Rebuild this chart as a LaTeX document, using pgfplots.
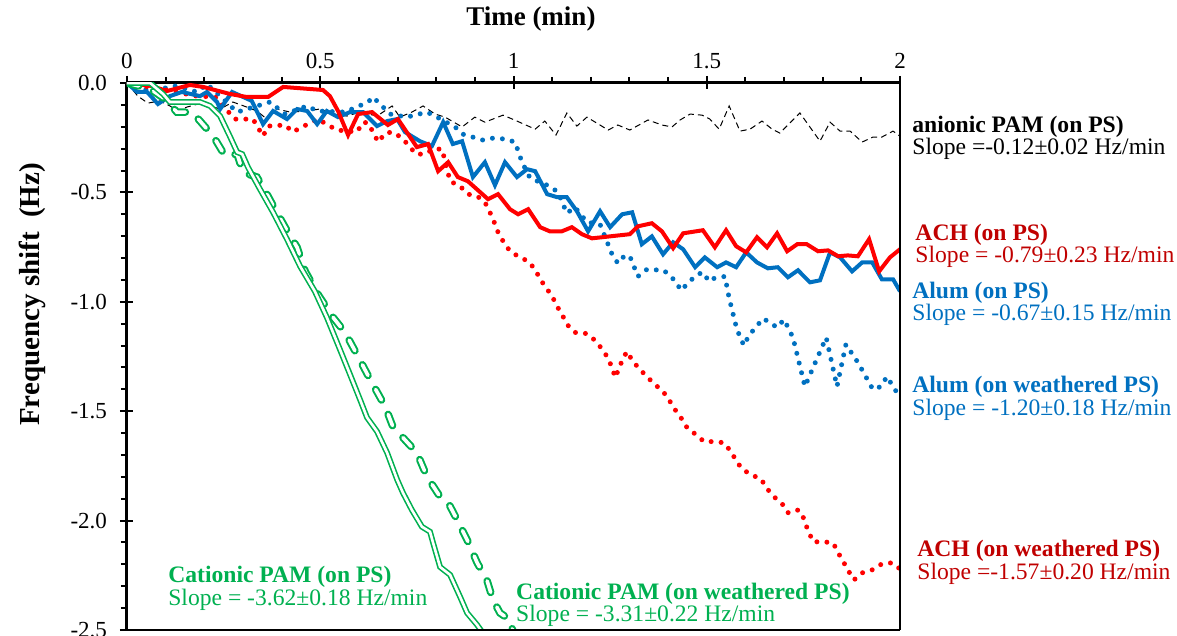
\documentclass[border=0pt]{standalone}
\usepackage{pgfplots}
\pgfplotsset{compat=1.18}
\usepackage{fontspec}
\setmainfont{Liberation Serif}
\definecolor{cred}{HTML}{FF0000}
\definecolor{cblue}{HTML}{0070C0}
\definecolor{cgreen}{HTML}{00B050}
\definecolor{cdred}{HTML}{C00000}
\newcommand{\annfont}{\fontsize{11.8pt}{11.3pt}\selectfont}
\begin{document}
\begin{tikzpicture}
\path[use as bounding box] (-63.5pt,-3pt) rectangle (525pt,315pt);
\begin{axis}[
  at={(0pt,0pt)}, anchor=south west,
  scale only axis, width=386.5pt, height=273.5pt,
  xmin=0, xmax=2, ymin=-2.5, ymax=0,
  axis x line*=top, axis y line*=left,
  axis line style={line width=1.5pt, -},
  xtick={0,0.5,1,1.5,2}, ytick={-2.5,-2,-1.5,-1,-0.5,0},
  minor x tick num=4, minor y tick num=4,
  tick align=outside,
  major tick length=3.5pt, minor tick length=3pt,
  every tick/.style={black, line width=1pt},
  extra x ticks={0.5,1,1.5}, extra x tick labels={},
  extra y ticks={-2,-1.5,-1,-0.5}, extra y tick labels={},
  extra tick style={tick align=inside, major tick length=3pt},
  clip mode=individual,
  ticklabel style={font=\fontsize{11.5pt}{12pt}\selectfont},
  /pgf/number format/assume math mode=true,
  yticklabel style={xshift=-3pt, /pgf/number format/.cd, fixed, fixed zerofill, precision=1},
  xticklabel style={/pgf/number format/.cd, fixed},
]
% anionic PAM (on PS)
\addplot[black, line width=0.5pt, dash pattern=on 3pt off 2pt, mark=none] coordinates {
(0,0)(0.028,-0.060)(0.054,-0.092)(0.085,-0.082)(0.111,-0.105)(0.132,-0.128)(0.155,-0.110)(0.184,-0.096)(0.215,-0.105)(0.241,-0.119)(0.274,-0.087)(0.310,-0.110)(0.336,-0.128)(0.362,-0.165)(0.388,-0.119)(0.422,-0.133)(0.466,-0.128)(0.499,-0.119)(0.533,-0.142)(0.569,-0.151)(0.603,-0.133)(0.647,-0.151)(0.686,-0.105)(0.706,-0.156)(0.737,-0.133)(0.766,-0.105)(0.797,-0.142)(0.823,-0.156)(0.867,-0.201)(0.900,-0.156)(0.926,-0.179)(0.973,-0.147)(1.009,-0.174)(1.056,-0.211)(1.081,-0.174)(1.110,-0.238)(1.138,-0.137)(1.164,-0.197)(1.190,-0.156)(1.245,-0.215)(1.270,-0.192)(1.301,-0.215)(1.348,-0.169)(1.384,-0.192)(1.410,-0.201)(1.431,-0.169)(1.457,-0.142)(1.488,-0.147)(1.508,-0.165)(1.532,-0.211)(1.558,-0.105)(1.586,-0.220)(1.612,-0.211)(1.643,-0.174)(1.669,-0.211)(1.689,-0.229)(1.741,-0.137)(1.793,-0.266)(1.819,-0.179)(1.845,-0.220)(1.871,-0.220)(1.902,-0.270)(1.930,-0.247)(1.953,-0.247)(1.982,-0.220)(2.000,-0.243)};
% Alum (on weathered PS)
\addplot[cblue, line width=2.5pt, line cap=round, dash pattern=on 0pt off 5pt, mark=none] coordinates {
(0,0)(0.060,-0.037)(0.124,-0.014)(0.181,-0.041)(0.207,-0.005)(0.285,-0.133)(0.370,-0.087)(0.409,-0.142)(0.466,-0.105)(0.492,-0.128)(0.564,-0.133)(0.624,-0.087)(0.636,-0.064)(0.655,-0.096)(0.680,-0.142)(0.724,-0.156)(0.776,-0.133)(0.802,-0.156)(0.849,-0.201)(0.869,-0.234)(0.921,-0.261)(0.947,-0.252)(0.978,-0.256)(1.004,-0.270)(1.022,-0.362)(1.043,-0.435)(1.094,-0.472)(1.115,-0.499)(1.138,-0.595)(1.159,-0.568)(1.190,-0.636)(1.224,-0.646)(1.255,-0.783)(1.270,-0.824)(1.288,-0.788)(1.301,-0.792)(1.322,-0.884)(1.345,-0.852)(1.389,-0.856)(1.420,-0.907)(1.433,-0.948)(1.472,-0.879)(1.490,-0.865)(1.506,-0.907)(1.519,-0.893)(1.547,-0.884)(1.558,-0.984)(1.578,-1.126)(1.596,-1.200)(1.609,-1.154)(1.646,-1.076)(1.682,-1.117)(1.700,-1.081)(1.723,-1.163)(1.754,-1.387)(1.809,-1.163)(1.837,-1.387)(1.860,-1.195)(1.891,-1.277)(1.930,-1.401)(1.951,-1.387)(1.966,-1.342)(1.992,-1.415)(2.000,-1.401)};
% ACH (on weathered PS)
\addplot[cred, line width=2.5pt, line cap=round, dash pattern=on 0pt off 5pt, mark=none] coordinates {
(0,0)(0.085,-0.027)(0.181,-0.060)(0.228,-0.064)(0.279,-0.165)(0.326,-0.165)(0.352,-0.243)(0.365,-0.197)(0.409,-0.192)(0.429,-0.224)(0.453,-0.201)(0.494,-0.165)(0.520,-0.192)(0.543,-0.215)(0.595,-0.224)(0.611,-0.179)(0.624,-0.183)(0.650,-0.270)(0.668,-0.229)(0.688,-0.224)(0.712,-0.252)(0.748,-0.325)(0.771,-0.325)(0.792,-0.302)(0.815,-0.302)(0.836,-0.449)(0.862,-0.472)(0.882,-0.508)(0.906,-0.517)(0.926,-0.545)(0.939,-0.591)(0.950,-0.636)(0.960,-0.682)(0.973,-0.723)(0.991,-0.769)(1.012,-0.792)(1.038,-0.815)(1.056,-0.852)(1.069,-0.897)(1.100,-0.975)(1.113,-1.021)(1.128,-1.067)(1.141,-1.108)(1.159,-1.140)(1.188,-1.145)(1.208,-1.172)(1.226,-1.209)(1.242,-1.250)(1.255,-1.300)(1.263,-1.346)(1.273,-1.305)(1.283,-1.259)(1.294,-1.227)(1.307,-1.268)(1.325,-1.305)(1.345,-1.342)(1.366,-1.378)(1.387,-1.410)(1.402,-1.447)(1.418,-1.493)(1.433,-1.529)(1.449,-1.575)(1.472,-1.607)(1.493,-1.639)(1.519,-1.639)(1.544,-1.644)(1.563,-1.685)(1.576,-1.726)(1.591,-1.763)(1.614,-1.790)(1.640,-1.809)(1.656,-1.854)(1.674,-1.891)(1.695,-1.923)(1.710,-1.964)(1.734,-1.951)(1.746,-1.964)(1.754,-2.010)(1.765,-2.056)(1.775,-2.097)(1.803,-2.097)(1.827,-2.102)(1.840,-2.147)(1.855,-2.193)(1.868,-2.234)(1.881,-2.271)(1.902,-2.239)(1.928,-2.225)(1.953,-2.198)(1.979,-2.193)(2.000,-2.221)};
% Alum (on PS)
\addplot[cblue, line width=2pt, mark=none] coordinates {
(0,0)(0.026,-0.041)(0.052,-0.041)(0.080,-0.096)(0.111,-0.060)(0.142,-0.041)(0.189,-0.060)(0.207,-0.041)(0.233,-0.087)(0.241,-0.119)(0.272,-0.041)(0.323,-0.082)(0.352,-0.188)(0.378,-0.128)(0.414,-0.165)(0.440,-0.119)(0.466,-0.128)(0.492,-0.188)(0.517,-0.128)(0.546,-0.156)(0.577,-0.133)(0.611,-0.133)(0.647,-0.197)(0.673,-0.174)(0.699,-0.165)(0.719,-0.224)(0.758,-0.266)(0.789,-0.288)(0.818,-0.179)(0.843,-0.279)(0.867,-0.266)(0.895,-0.430)(0.926,-0.362)(0.952,-0.467)(0.978,-0.362)(1.009,-0.430)(1.035,-0.394)(1.056,-0.403)(1.087,-0.508)(1.113,-0.522)(1.138,-0.522)(1.164,-0.586)(1.193,-0.678)(1.224,-0.586)(1.250,-0.659)(1.281,-0.600)(1.307,-0.591)(1.332,-0.737)(1.358,-0.701)(1.387,-0.783)(1.413,-0.728)(1.439,-0.760)(1.470,-0.842)(1.495,-0.797)(1.527,-0.842)(1.550,-0.820)(1.576,-0.842)(1.602,-0.774)(1.630,-0.820)(1.658,-0.847)(1.684,-0.842)(1.710,-0.888)(1.736,-0.856)(1.767,-0.911)(1.793,-0.902)(1.819,-0.774)(1.845,-0.797)(1.876,-0.861)(1.902,-0.820)(1.928,-0.820)(1.953,-0.897)(1.982,-0.897)(2.000,-0.952)};
% ACH (on PS)
\addplot[cred, line width=2pt, mark=none] coordinates {
(0,0)(0.065,-0.014)(0.103,-0.037)(0.163,-0.009)(0.197,-0.018)(0.266,-0.050)(0.310,-0.064)(0.365,-0.064)(0.404,-0.018)(0.507,-0.032)(0.525,-0.060)(0.546,-0.128)(0.572,-0.238)(0.598,-0.142)(0.634,-0.133)(0.675,-0.192)(0.701,-0.165)(0.750,-0.293)(0.779,-0.279)(0.805,-0.403)(0.831,-0.362)(0.856,-0.430)(0.882,-0.449)(0.934,-0.531)(0.960,-0.508)(0.991,-0.577)(1.012,-0.600)(1.038,-0.577)(1.069,-0.659)(1.094,-0.678)(1.125,-0.678)(1.151,-0.659)(1.177,-0.691)(1.203,-0.710)(1.301,-0.691)(1.322,-0.655)(1.358,-0.641)(1.384,-0.678)(1.413,-0.755)(1.439,-0.687)(1.490,-0.673)(1.521,-0.751)(1.550,-0.673)(1.576,-0.746)(1.602,-0.774)(1.630,-0.705)(1.656,-0.751)(1.682,-0.687)(1.708,-0.769)(1.734,-0.737)(1.759,-0.737)(1.788,-0.769)(1.814,-0.765)(1.840,-0.792)(1.865,-0.788)(1.891,-0.792)(1.920,-0.714)(1.946,-0.861)(1.974,-0.797)(2.000,-0.760)};
% Cationic PAM (on weathered PS)
\addplot[draw=cgreen, line width=1pt, double=white, double distance=1.8pt, line cap=round, dash pattern=on 6pt off 8pt, mark=none] coordinates {
(0,0)(0.060,-0.027)(0.098,-0.073)(0.129,-0.133)(0.168,-0.133)(0.189,-0.174)(0.223,-0.243)(0.254,-0.334)(0.285,-0.325)(0.300,-0.408)(0.336,-0.430)(0.362,-0.508)(0.383,-0.577)(0.409,-0.659)(0.440,-0.751)(0.461,-0.861)(0.494,-0.966)(0.533,-1.071)(0.564,-1.140)(0.595,-1.241)(0.629,-1.355)(0.668,-1.479)(0.688,-1.571)(0.714,-1.621)(0.750,-1.690)(0.776,-1.799)(0.810,-1.891)(0.831,-1.918)(0.854,-1.996)(0.880,-2.088)(0.906,-2.193)(0.931,-2.271)(0.947,-2.363)(0.965,-2.422)(0.991,-2.454)(1.004,-2.546)};
% Cationic PAM (on PS)
\addplot[draw=cgreen, line width=0.8pt, double=white, double distance=1.3pt, mark=none] coordinates {
(0,0)(0.060,0)(0.093,-0.050)(0.111,-0.087)(0.189,-0.087)(0.215,-0.105)(0.241,-0.151)(0.266,-0.243)(0.285,-0.316)(0.298,-0.325)(0.313,-0.385)(0.344,-0.485)(0.378,-0.591)(0.414,-0.714)(0.448,-0.838)(0.486,-0.952)(0.517,-1.071)(0.551,-1.218)(0.577,-1.332)(0.603,-1.447)(0.621,-1.529)(0.647,-1.593)(0.673,-1.690)(0.699,-1.813)(0.714,-1.873)(0.737,-1.951)(0.763,-2.028)(0.784,-2.051)(0.792,-2.102)(0.810,-2.212)(0.836,-2.248)(0.862,-2.349)(0.880,-2.422)(0.906,-2.477)(0.926,-2.527)};
% frame right and bottom
\draw[black, line width=1pt] (rel axis cs:1,0) -- (rel axis cs:1,1);
\draw[black, line width=1pt] (rel axis cs:0,0) -- (rel axis cs:1,0);
% titles
\node[font=\fontsize{13.5pt}{14pt}\selectfont\bfseries] at (axis cs:1.045,0.293) {Time (min)};
\node[font=\fontsize{14.5pt}{15pt}\selectfont\bfseries, rotate=90] at (axis cs:-0.245,-0.966) {Frequency shift\ \ (Hz)};
% annotations
\node[anchor=west, inner sep=0pt, align=left, font=\annfont, text=black] at (axis cs:2.031,-0.250) {\textbf{anionic PAM (on PS)}\\Slope =-0.12±0.02 Hz/min};
\node[anchor=west, inner sep=0pt, align=left, font=\annfont, text=cdred] at (axis cs:2.039,-0.745) {\textbf{ACH (on PS)}\\Slope = -0.79±0.23 Hz/min};
\node[anchor=west, inner sep=0pt, align=left, font=\annfont, text=cblue] at (axis cs:2.031,-1.01) {\textbf{Alum (on PS)}\\Slope = -0.67±0.15 Hz/min};
\node[anchor=west, inner sep=0pt, align=left, font=\annfont, text=cblue] at (axis cs:2.031,-1.44) {\textbf{Alum (on weathered PS)}\\Slope = -1.20±0.18 Hz/min};
\node[anchor=west, inner sep=0pt, align=left, font=\annfont, text=cdred] at (axis cs:2.044,-2.19) {\textbf{ACH (on weathered PS)}\\Slope =-1.57±0.20 Hz/min};
\node[anchor=west, inner sep=0pt, align=left, font=\annfont, text=cgreen] at (axis cs:0.106,-2.31) {\textbf{Cationic PAM (on PS)}\\Slope = -3.62±0.18 Hz/min};
\node[anchor=west, inner sep=0pt, align=left, font=\annfont, text=cgreen] at (axis cs:1.006,-2.385) {\textbf{Cationic PAM (on weathered PS)}\\Slope = -3.31±0.22 Hz/min};
\end{axis}
\end{tikzpicture}
\end{document}
